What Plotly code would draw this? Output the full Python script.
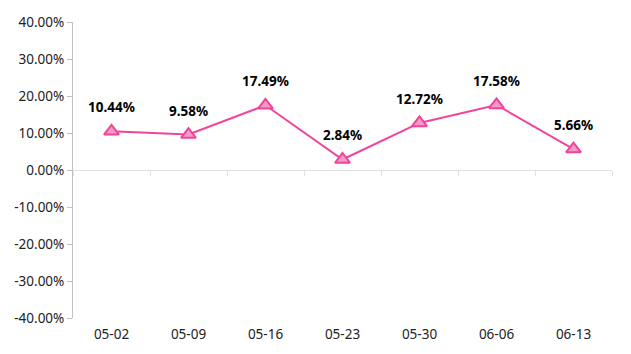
import plotly.graph_objects as go

categories = ["05-02", "05-09", "05-16", "05-23", "05-30", "06-06", "06-13"]
values = [10.44, 9.58, 17.49, 2.84, 12.72, 17.58, 5.66]
y_ticks = [-40, -30, -20, -10, 0, 10, 20, 30, 40]

line_color = "#F0449A"
fill_color = "#F59AC4"

fig = go.Figure()
fig.add_trace(go.Scatter(
    x=categories, y=values, mode="lines+markers",
    line=dict(color=line_color, width=2),
    marker=dict(symbol="triangle-up", size=13, color=fill_color,
                line=dict(color=line_color, width=2)),
    hoverinfo="skip", showlegend=False,
))
# invisible trace for bottom label axis
fig.add_trace(go.Scatter(x=categories, y=values, xaxis="x2", mode="markers",
                         marker=dict(opacity=0), hoverinfo="skip", showlegend=False))

for c, v in zip(categories, values):
    fig.add_annotation(x=c, y=v, text=f"<b>{v:.2f}%</b>", showarrow=False,
                       yshift=24, font=dict(family="Noto Sans", size=13.5, color="#000"))

font = dict(family="Noto Sans", size=13.5, color="#222")
fig.update_layout(
    width=631, height=354,
    margin=dict(l=73, r=19, t=22, b=36),
    paper_bgcolor="white", plot_bgcolor="white",
    yaxis=dict(range=[-40, 40], tickvals=y_ticks,
               ticktext=[f"{t:.2f}%" for t in y_ticks],
               showgrid=False, zeroline=False, showline=True,
               linecolor="#c0c0c0", linewidth=1, ticks="outside",
               ticklen=5, tickcolor="#c0c0c0", tickfont=font),
    xaxis=dict(type="category", anchor="free", position=0.5,
               showline=True, linecolor="#e0e0e0", linewidth=1,
               ticks="outside", tickson="boundaries", ticklen=5,
               tickcolor="#e0e0e0", showticklabels=False, showgrid=False,
               range=[-0.5, 6.5]),
    xaxis2=dict(type="category", overlaying="x", anchor="y", side="bottom",
                showline=False, ticks="", showgrid=False, tickfont=font,
                ticklabelstandoff=6,
                range=[-0.5, 6.5]),
)
fig.write_html("out.html")
